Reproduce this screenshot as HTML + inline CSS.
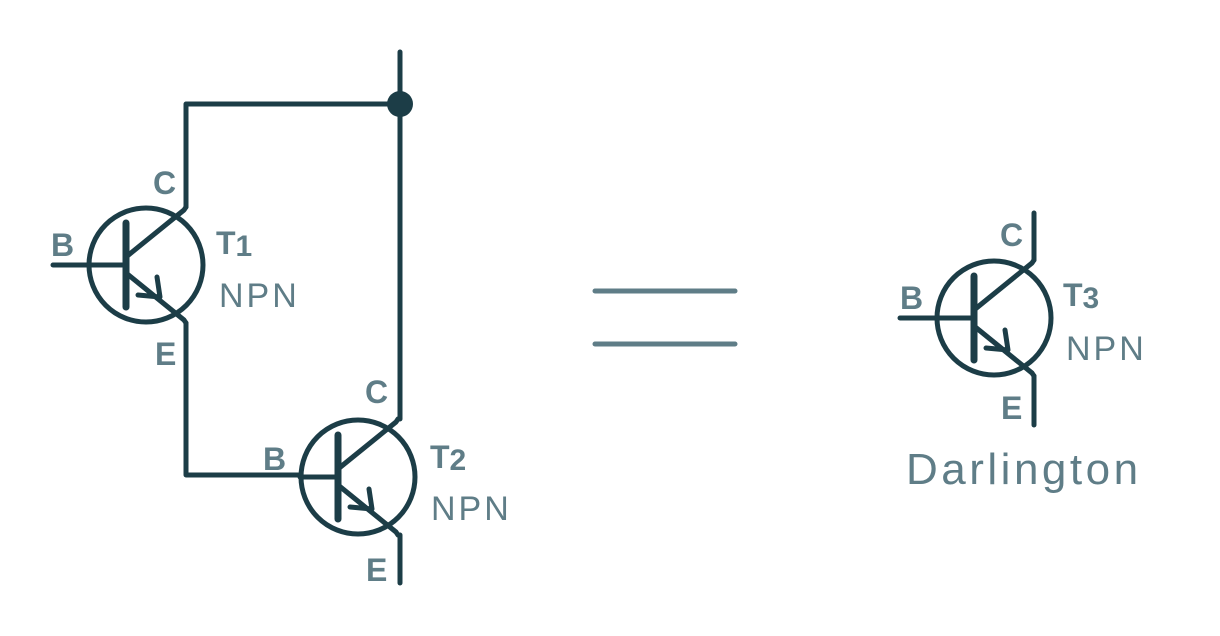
<!DOCTYPE html>
<html><head><meta charset="utf-8"><style>
html,body{margin:0;padding:0;background:#fff}
svg{display:block}
text{font-family:"Liberation Sans",sans-serif;fill:#5f7d87}
.b{font-weight:bold;font-size:32px}
.n{font-size:34px;letter-spacing:3px}
</style></head><body>
<svg width="1220" height="636" viewBox="0 0 1220 636" xmlns="http://www.w3.org/2000/svg">
<defs>
<g id="tr" fill="none" stroke="#1c3d47" stroke-width="5" stroke-linecap="round" stroke-linejoin="round">
<circle cx="0" cy="0" r="57"/>
<line x1="-20" y1="-42" x2="-20" y2="42" stroke-width="7"/>
<polyline points="-20,-8 38,-55 40,-58"/>
<polyline points="-20,8 38,55 40,58"/>
<polyline points="11,12 14,32 -8,30"/>
</g>
</defs>
<g fill="none" stroke="#1c3d47" stroke-width="5" stroke-linecap="round" stroke-linejoin="round">
<polyline points="186,207 186,104 400,104"/>
<line x1="400" y1="52" x2="400" y2="419"/>
<polyline points="186,323 186,475 300,475"/>
<line x1="53" y1="265" x2="126" y2="265"/>
<line x1="400" y1="535" x2="400" y2="583"/>
<line x1="900" y1="318" x2="973" y2="318"/>
<line x1="1034" y1="213" x2="1034" y2="260"/>
<line x1="1034" y1="376" x2="1034" y2="425"/>
<line x1="338" y1="477" x2="300" y2="477"/>
</g>
<circle cx="400" cy="104" r="13" fill="#1c3d47"/>
<use href="#tr" x="146" y="265"/>
<use href="#tr" x="358" y="477"/>
<use href="#tr" x="994" y="318"/>
<g stroke="#5f7d87" stroke-width="5" stroke-linecap="round">
<line x1="595" y1="291" x2="735" y2="291"/>
<line x1="595" y1="344" x2="735" y2="344"/>
</g>
<text class="b" x="153" y="194">C</text>
<text class="b" x="51" y="256">B</text>
<text class="b" x="155" y="365">E</text>
<text class="b" x="216" y="254" font-size="34">T<tspan font-size="30" dy="2">1</tspan></text>
<text class="n" x="219" y="307">NPN</text>
<text class="b" x="365" y="403">C</text>
<text class="b" x="263" y="470">B</text>
<text class="b" x="366" y="581">E</text>
<text class="b" x="430" y="468" font-size="34">T<tspan font-size="30" dy="2">2</tspan></text>
<text class="n" x="431" y="520">NPN</text>
<text class="b" x="1000" y="246">C</text>
<text class="b" x="900" y="309">B</text>
<text class="b" x="1001" y="419">E</text>
<text class="b" x="1063" y="306" font-size="34">T<tspan font-size="30" dy="2">3</tspan></text>
<text class="n" x="1066" y="360">NPN</text>
<text x="906" y="484" font-size="44" letter-spacing="3.5">Darlington</text>
</svg>
</body></html>
